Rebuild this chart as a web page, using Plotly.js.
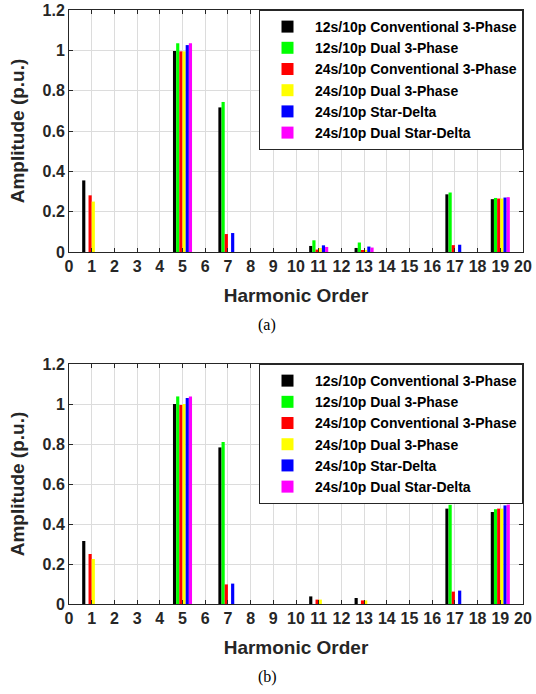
<!DOCTYPE html>
<html>
<head>
<meta charset="utf-8">
<script src="https://cdn.plot.ly/plotly-3.0.1.min.js"></script>
<style>
  html, body { margin: 0; padding: 0; background: #ffffff; }
  #chart { width: 536px; height: 694px; }
</style>
</head>
<body>
<div id="chart"></div>
<script>
// Harmonic orders shown
const harmonics = [1, 5, 7, 11, 13, 17, 19];

const seriesNames = [
  "12s/10p Conventional 3-Phase",
  "12s/10p Dual 3-Phase",
  "24s/10p Conventional 3-Phase",
  "24s/10p Dual 3-Phase",
  "24s/10p Star-Delta",
  "24s/10p Dual Star-Delta"
];
const seriesColors = ["#000000", "#00ff00", "#ff0000", "#ffff00", "#0000ff", "#ff00ff"];

// Panel (a) amplitudes (p.u.)
const conv12_a = [0.355, 0.997, 0.717, 0.030, 0.020, 0.286, 0.262];
const dual12_a = [0.000, 1.035, 0.744, 0.058, 0.047, 0.295, 0.268];
const conv24_a = [0.281, 0.995, 0.089, 0.012, 0.010, 0.034, 0.265];
const dual24_a = [0.250, 0.995, 0.000, 0.020, 0.010, 0.000, 0.265];
const sd24_a   = [0.000, 1.026, 0.094, 0.033, 0.027, 0.036, 0.270];
const dsd24_a  = [0.000, 1.035, 0.000, 0.025, 0.022, 0.000, 0.272];

// Panel (b) amplitudes (p.u.)
const conv12_b = [0.315, 1.000, 0.783, 0.038, 0.030, 0.477, 0.460];
const dual12_b = [0.000, 1.038, 0.810, 0.000, 0.000, 0.496, 0.474];
const conv24_b = [0.250, 0.995, 0.098, 0.022, 0.018, 0.062, 0.477];
const dual24_b = [0.225, 1.000, 0.000, 0.022, 0.018, 0.000, 0.477];
const sd24_b   = [0.000, 1.030, 0.102, 0.000, 0.000, 0.067, 0.493];
const dsd24_b  = [0.000, 1.038, 0.000, 0.000, 0.000, 0.000, 0.497];

const xTickVals = [0,1,2,3,4,5,6,7,8,9,10,11,12,13,14,15,16,17,18,19,20];
const yTickVals = [0, 0.2, 0.4, 0.6, 0.8, 1, 1.2];

const panelA = [conv12_a, dual12_a, conv24_a, dual24_a, sd24_a, dsd24_a];
const panelB = [conv12_b, dual12_b, conv24_b, dual24_b, sd24_b, dsd24_b];

const traces = [];
panelA.forEach((vals, i) => {
  traces.push({
    type: "bar", x: harmonics, y: vals, name: seriesNames[i],
    marker: { color: seriesColors[i], line: { width: 0 } },
    xaxis: "x", yaxis: "y", legend: "legend"
  });
});
panelB.forEach((vals, i) => {
  traces.push({
    type: "bar", x: harmonics, y: vals, name: seriesNames[i],
    marker: { color: seriesColors[i], line: { width: 0 } },
    xaxis: "x2", yaxis: "y2", legend: "legend2"
  });
});

const txt = "#262626";
const tickFont = { family: "Arial, 'Liberation Sans', sans-serif", size: 16, color: txt, weight: "bold" };
const titleFont = { family: "Arial, 'Liberation Sans', sans-serif", size: 19, color: txt, weight: "bold" };
const legendFont = { family: "Arial, 'Liberation Sans', sans-serif", size: 14, color: "#000000", weight: "bold" };

function xAxis(anchor) {
  return {
    anchor: anchor, domain: [0, 1], range: [0, 20],
    tickmode: "array", tickvals: xTickVals, ticktext: xTickVals.map(String),
    tickangle: 0,
    showgrid: true, gridcolor: "#dcdcdc", gridwidth: 1,
    showline: true, linecolor: txt, linewidth: 1, mirror: "ticks",
    ticks: "inside", ticklen: 4, tickcolor: txt,
    tickfont: tickFont, zeroline: false,
    title: { text: "<b>Harmonic Order</b>", font: titleFont, standoff: 14 }
  };
}
function yAxis(anchor, domain) {
  return {
    anchor: anchor, domain: domain, range: [0, 1.2],
    tickmode: "array", tickvals: yTickVals, ticktext: ["0", "0.2", "0.4", "0.6", "0.8", "1", "1.2"],
    showgrid: true, gridcolor: "#dcdcdc", gridwidth: 1,
    showline: true, linecolor: txt, linewidth: 1, mirror: "ticks",
    ticks: "inside", ticklen: 4, tickcolor: txt,
    tickfont: tickFont, zeroline: false,
    title: { text: "<b>Amplitude (p.u.)</b>", font: titleFont, standoff: 12 }
  };
}

const legendBase = {
  xanchor: "right", x: 1, yanchor: "top",
  bgcolor: "#ffffff", bordercolor: txt, borderwidth: 1,
  font: legendFont, traceorder: "normal", tracegroupgap: 0,
  itemwidth: 45
};

const layout = {
  width: 536, height: 694,
  margin: { l: 69, r: 13, t: 10, b: 90 },
  paper_bgcolor: "#ffffff", plot_bgcolor: "#ffffff",
  barmode: "group", bargap: 0.58, bargroupgap: 0,
  showlegend: true,
  xaxis: xAxis("y"),
  yaxis: yAxis("x", [0.5926, 1]),
  xaxis2: xAxis("y2"),
  yaxis2: yAxis("x2", [0, 0.404]),
  legend: Object.assign({}, legendBase, { y: 1 }),
  legend2: Object.assign({}, legendBase, { y: 0.404 }),
  annotations: [
    { text: "(a)", xref: "paper", yref: "paper", x: 0.437, y: 0.4697, xanchor: "center", yanchor: "middle",
      showarrow: false, font: { family: "'Liberation Serif', 'Times New Roman', serif", size: 16, color: "#000000" } },
    { text: "(b)", xref: "paper", yref: "paper", x: 0.437, y: -0.1229, xanchor: "center", yanchor: "middle",
      showarrow: false, font: { family: "'Liberation Serif', 'Times New Roman', serif", size: 16, color: "#000000" } }
  ]
};

Plotly.newPlot("chart", traces, layout, { displayModeBar: false, staticPlot: true });
</script>
</body>
</html>
